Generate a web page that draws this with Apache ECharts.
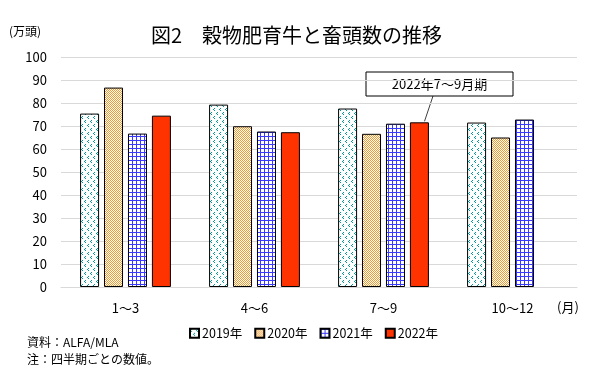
<!DOCTYPE html>
<html>
<head>
<meta charset="utf-8">
<script src="https://cdn.jsdelivr.net/npm/echarts@6/dist/echarts.min.js"></script>
<style>
  html, body { margin: 0; padding: 0; background: #fff; }
  #main { width: 600px; height: 376px; }
</style>
</head>
<body>
<div id="main"></div>
<script>
var categories = ["1〜3", "4〜6", "7〜9", "10〜12"];
var seriesNames = ["2019年", "2020年", "2021年", "2022年"];
var v2019 = [75.4, 79.3, 77.6, 71.5];
var v2020 = [86.7, 69.9, 66.6, 65.0];
var v2021 = [66.7, 67.6, 71.0, 72.8];
var v2022 = [74.5, 67.3, 71.6, null];
var yMin = 0, yMax = 100, yStep = 10;
var noteText = "2022年7〜9月期";

var font = "'Noto Sans CJK JP', sans-serif";

// small tiles for the Excel-like fill patterns
function tile(w, h, draw) {
  var c = document.createElement("canvas");
  c.width = w;
  c.height = h;
  var ctx = c.getContext("2d");
  ctx.fillStyle = "#fff";
  ctx.fillRect(0, 0, w, h);
  draw(ctx);
  return { image: c, repeat: "repeat" };
}

var dots = tile(6, 8, function (ctx) {
  ctx.fillStyle = "#009a9a";
  [[1, 0], [0, 1], [1, 2], [4, 4], [3, 5], [4, 6]].forEach(function (p) {
    ctx.fillRect(p[0], p[1], 1, 1);
  });
});
var checker = tile(2, 2, function (ctx) {
  ctx.fillStyle = "#ee9a2e";
  ctx.fillRect(0, 0, 1, 1);
  ctx.fillRect(1, 1, 1, 1);
});
var grid = tile(4, 4, function (ctx) {
  ctx.fillStyle = "#3a3aff";
  ctx.fillRect(0, 0, 4, 1);
  ctx.fillRect(0, 0, 1, 4);
});
var fills = [dots, checker, grid, "#ff3300"];
var values = [v2019, v2020, v2021, v2022];

var chartDom = document.getElementById("main");
var myChart = echarts.init(chartDom);

var series = seriesNames.map(function (name, i) {
  return {
    name: name,
    type: "bar",
    data: values[i],
    barWidth: 19,
    barGap: "26%",
    itemStyle: { color: fills[i], borderColor: "#000", borderWidth: 1 },
    animation: false,
  };
});

var option = {
  animation: false,
  textStyle: { fontFamily: font, color: "#000" },
  title: {
    text: "図2　穀物肥育牛と畜頭数の推移",
    left: 146,
    top: 20,
    textStyle: { fontSize: 20, fontWeight: "normal", color: "#000", fontFamily: font },
  },
  legend: {
    left: 184,
    top: 322,
    itemWidth: 9,
    itemHeight: 9,
    itemGap: 12,
    icon: "rect",
    textStyle: { fontSize: 12.5, color: "#000", fontFamily: font, padding: [0, 0, 0, -2] },
    data: seriesNames,
  },
  grid: { left: 61, right: 23, top: 57, bottom: 89 },
  xAxis: {
    type: "category",
    data: categories,
    axisLine: { lineStyle: { color: "#d9d9d9" } },
    axisTick: { show: false },
    axisLabel: { fontSize: 13, color: "#000", margin: 15, fontFamily: font },
  },
  yAxis: {
    type: "value",
    min: yMin,
    max: yMax,
    interval: yStep,
    axisLabel: { fontSize: 13, color: "#000", margin: 14, fontFamily: font },
    splitLine: { lineStyle: { color: "#d9d9d9" } },
  },
  series: series,
  graphic: [
    { type: "text", left: 9, top: 25, style: { text: "(万頭)", fontSize: 12, fill: "#000", fontFamily: font } },
    { type: "text", left: 557, top: 301, style: { text: "(月)", fontSize: 13, fill: "#000", fontFamily: font } },
    { type: "text", left: 27, top: 336, style: { text: "資料：ALFA/MLA", fontSize: 12, fill: "#000", fontFamily: font } },
    { type: "text", left: 27, top: 353, style: { text: "注：四半期ごとの数値。", fontSize: 12, fill: "#000", fontFamily: font } },
  ],
};
option && myChart.setOption(option);

// callout pointing at the 2022 bar of 7〜9
var ci = categories.indexOf("7〜9");
var base = myChart.convertToPixel({ xAxisIndex: 0, yAxisIndex: 0 }, [ci, v2022[ci]]);
var barOffset = 1.5 * (19 + 5);
var tipX = base[0] + barOffset + 5;
var tipY = base[1] - 1;
var box = { x: 366, y: 72, w: 147, h: 24 };
myChart.setOption({
  graphic: option.graphic.concat([
    {
      type: "line",
      shape: { x1: box.x + 67, y1: box.y + box.h, x2: tipX, y2: tipY },
      style: { stroke: "#404040", lineWidth: 1 },
    },
    {
      type: "rect",
      shape: { x: box.x, y: box.y, width: box.w, height: box.h },
      style: { fill: "#fff", stroke: "#000", lineWidth: 1 },
    },
    {
      type: "text",
      x: box.x + box.w / 2,
      y: box.y + box.h / 2,
      style: { text: noteText, fontSize: 13, fill: "#000", fontFamily: font, align: "center", verticalAlign: "middle" },
    },
  ]),
});
</script>
</body>
</html>
